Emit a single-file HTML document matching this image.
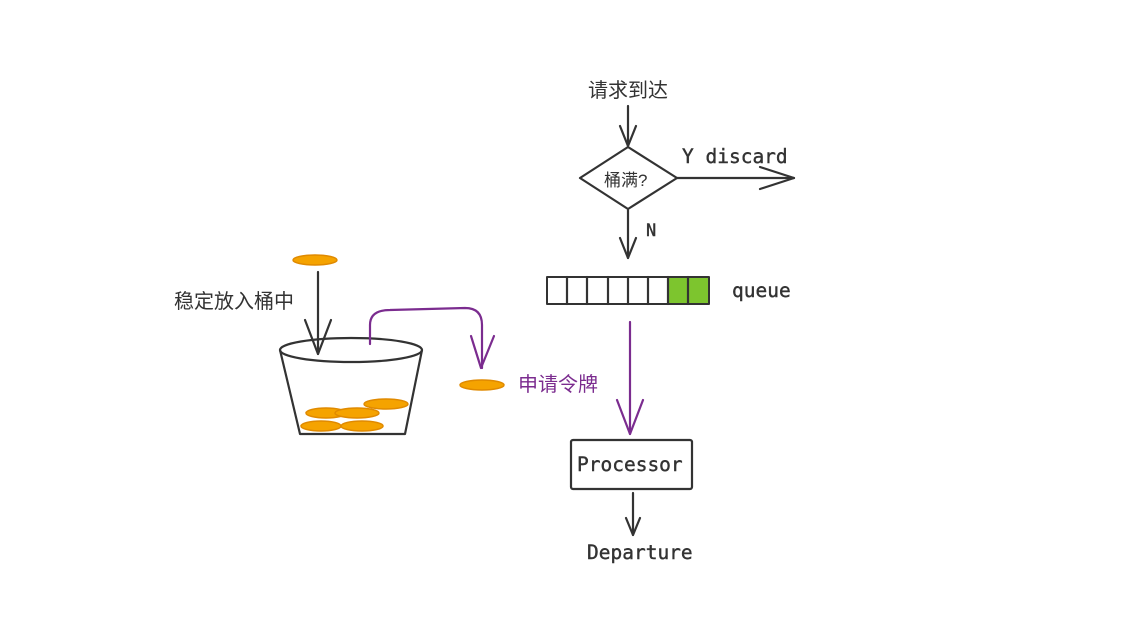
<!DOCTYPE html>
<html><head><meta charset="utf-8"><style>
html,body{margin:0;padding:0;background:#fff;width:1137px;height:633px;overflow:hidden}
</style></head><body>
<svg width="1137" height="633" xmlns="http://www.w3.org/2000/svg">
<g fill="none" stroke="#333" stroke-width="2.2" stroke-linecap="round" stroke-linejoin="round">
  <line x1="628" y1="106" x2="628" y2="146"/>
  <polyline points="620,126 628,146 636,126"/>
  <polygon points="628,147 677,178 628,209 580,178"/>
  <line x1="677" y1="178" x2="794" y2="178"/>
  <polyline points="760,167 794,178 760,189"/>
  <line x1="628" y1="210" x2="628" y2="258"/>
  <polyline points="620,238 628,258 636,238"/>
  <rect x="547" y="277" width="162" height="27" fill="#fff" stroke-width="2"/>
  <rect x="668" y="278" width="20" height="25" fill="#7dc52e" stroke="none"/>
  <rect x="689" y="278" width="19" height="25" fill="#7dc52e" stroke="none"/>
  <line x1="567" y1="277" x2="567" y2="304"/>
  <line x1="587" y1="277" x2="587" y2="304"/>
  <line x1="608" y1="277" x2="608" y2="304"/>
  <line x1="628" y1="277" x2="628" y2="304"/>
  <line x1="648" y1="277" x2="648" y2="304"/>
  <line x1="668" y1="277" x2="668" y2="304"/>
  <line x1="688" y1="277" x2="688" y2="304"/>
  <rect x="571" y="440" width="121" height="49" rx="2" fill="#fff"/>
  <line x1="633" y1="493" x2="633" y2="535"/>
  <polyline points="626,518 633,535 640,518"/>
  <ellipse cx="351" cy="350" rx="71" ry="12" fill="#fff"/>
  <polyline points="280,350 300,434 405,434 422,350"/>
  <line x1="318" y1="272" x2="318" y2="354"/>
  <polyline points="305,320 318,354 331,320"/>
</g>
<g fill="none" stroke="#7b2c8f" stroke-width="2.2" stroke-linecap="round" stroke-linejoin="round">
  <line x1="630" y1="322" x2="630" y2="434"/>
  <polyline points="617,400 630,434 643,400"/>
  <path d="M370,344 L370,325 Q370,310 390,310 L465,308 Q482,308 482,325 L482,368"/>
  <polyline points="471,336 481,368 494,336"/>
</g>
<g fill="#f5a300" stroke="#e08a00" stroke-width="1.5">
  <ellipse cx="315" cy="260" rx="22" ry="5"/>
  <ellipse cx="482" cy="385" rx="22" ry="5"/>
  <ellipse cx="386" cy="404" rx="22" ry="5"/>
  <ellipse cx="326" cy="413" rx="20" ry="5"/>
  <ellipse cx="357" cy="413" rx="22" ry="5"/>
  <ellipse cx="321" cy="426" rx="20" ry="5"/>
  <ellipse cx="362" cy="426" rx="21" ry="5"/>
</g>
<g font-family="'Liberation Sans','Noto Sans CJK SC',sans-serif" font-size="20" fill="#333">
  <text x="588" y="97">请求到达</text>
  <text x="604" y="186" font-size="17">桶满?</text>
  <text x="174" y="308">稳定放入桶中</text>
  <text x="518" y="391" fill="#7b2c8f">申请令牌</text>
</g>
<g font-family="'DejaVu Sans Mono','Liberation Mono',monospace" font-size="19.5" fill="#333" stroke="#333" stroke-width="0.4">
  <text x="682" y="163">Y discard</text>
  <text x="646" y="236" font-size="17">N</text>
  <text x="732" y="297">queue</text>
  <text x="577" y="471">Processor</text>
  <text x="587" y="559">Departure</text>
</g>
</svg>
</body></html>
